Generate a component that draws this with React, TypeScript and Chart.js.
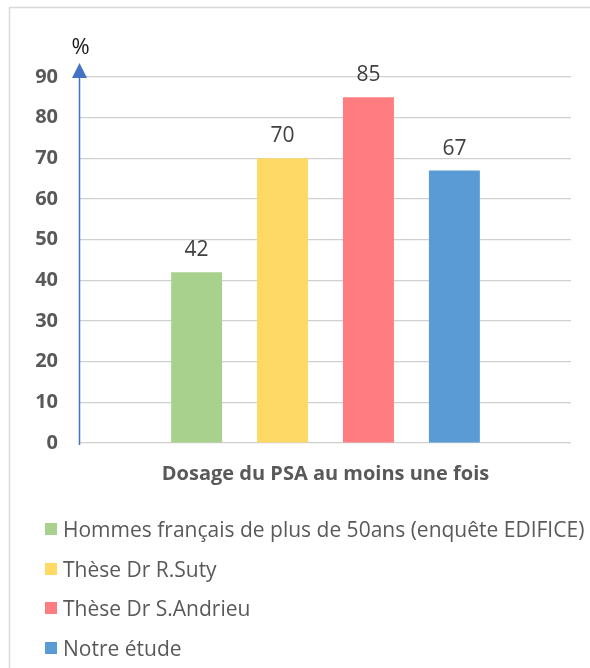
import React, { useEffect, useRef } from "react";
import { Chart, registerables } from "chart.js";
Chart.register(...registerables);

const categories = ["Dosage du PSA au moins une fois"];
const seriesNames = [
  "Hommes français de plus de 50ans (enquête EDIFICE)",
  "Thèse Dr R.Suty",
  "Thèse Dr S.Andrieu",
  "Notre étude",
];
const seriesValues = [42, 70, 85, 67];
const seriesColors = ["#A9D18E", "#FFD966", "#FF7C80", "#5B9BD5"];
const yMin = 0;
const yMax = 90;
const yStep = 10;
const yUnit = "%";

const FONT = "'Open Sans', 'Noto Sans', sans-serif";

const decorPlugin = {
  id: "decor",
  beforeDraw(chart: any) {
    const ctx = chart.ctx;
    ctx.save();
    ctx.strokeStyle = "#D9D9D9";
    ctx.lineWidth = 1.5;
    ctx.strokeRect(9.5, 7.5, 700, 800);
    ctx.restore();
  },
  afterDatasetsDraw(chart: any) {
    const ctx = chart.ctx;
    const area = chart.chartArea;
    ctx.save();
    // value labels
    ctx.font = `21px ${FONT}`;
    ctx.fillStyle = "#404040";
    ctx.textAlign = "center";
    ctx.textBaseline = "alphabetic";
    chart.data.datasets.forEach((ds: any, i: number) => {
      const meta = chart.getDatasetMeta(i);
      meta.data.forEach((bar: any, j: number) => {
        ctx.fillText(String(ds.data[j]), bar.x, bar.y - 16);
      });
    });
    // axis with arrow
    const ax = area.left - 0.5;
    ctx.strokeStyle = "#4472C4";
    ctx.lineWidth = 1.5;
    ctx.beginPath();
    ctx.moveTo(ax, area.bottom + 2);
    ctx.lineTo(ax, area.top - 2);
    ctx.stroke();
    ctx.fillStyle = "#4472C4";
    ctx.beginPath();
    ctx.moveTo(ax, area.top - 14);
    ctx.lineTo(ax - 7.5, area.top + 1);
    ctx.lineTo(ax + 7.5, area.top + 1);
    ctx.closePath();
    ctx.fill();
    // unit
    ctx.font = `22px ${FONT}`;
    ctx.fillStyle = "#1a1a1a";
    ctx.textAlign = "center";
    ctx.textBaseline = "middle";
    ctx.fillText(yUnit, ax + 1, area.top - 29);
    ctx.restore();
  },
};

export default function App() {
  const ref = useRef<HTMLCanvasElement | null>(null);
  useEffect(() => {
    if (!ref.current) return;
    const chart = new Chart(ref.current, {
      type: "bar",
      data: {
        labels: categories,
        datasets: seriesNames.map((name, i) => ({
          label: name,
          data: [seriesValues[i]],
          backgroundColor: seriesColors[i],
          borderWidth: 0,
        })),
      },
      options: {
        responsive: false,
        animation: false,
        devicePixelRatio: 1,
        categoryPercentage: 0.7,
        barPercentage: 0.593,
        layout: { padding: { left: 0, right: 19, top: 77, bottom: 180 } },
        plugins: {
          legend: { display: false },
          tooltip: { enabled: false },
        },
        scales: {
          x: {
            grid: { display: false, drawTicks: false },
            border: { display: false },
            ticks: { display: false },
            title: {
              display: true,
              text: categories[0],
              color: "#595959",
              font: { family: FONT, size: 20, weight: "bold" },
              padding: { top: 0, bottom: 2 },
            },
            afterFit(scale: any) {
              scale.height = 45;
            },
          },
          y: {
            min: yMin,
            max: yMax,
            ticks: {
              stepSize: yStep,
              color: "#595959",
              padding: 22,
              font: { family: FONT, size: 20, weight: "bold" },
            },
            grid: { color: "#D0D0D0", lineWidth: 1.2, drawTicks: false },
            border: { display: false },
            afterFit(scale: any) {
              scale.width = 80;
            },
          },
        },
      },
      plugins: [decorPlugin],
    });
    return () => chart.destroy();
  }, []);

  return (
    <div style={{ position: "absolute", left: 0, top: 0, width: 590, height: 668, overflow: "hidden", background: "#fff" }}>
      <canvas ref={ref} width={590} height={668} style={{ position: "absolute", left: 0, top: 0, width: 590, height: 668 }} />
      <div style={{ position: "absolute", left: 45, top: 509, fontFamily: FONT, fontSize: 21, color: "#595959" }}>
        {seriesNames.map((name, i) => (
          <div key={name} style={{ display: "flex", alignItems: "center", height: 39.7, whiteSpace: "nowrap" }}>
            <span style={{ display: "inline-block", width: 12, height: 12, background: seriesColors[i], marginRight: 6 }} />
            <span>{name}</span>
          </div>
        ))}
      </div>
    </div>
  );
}
